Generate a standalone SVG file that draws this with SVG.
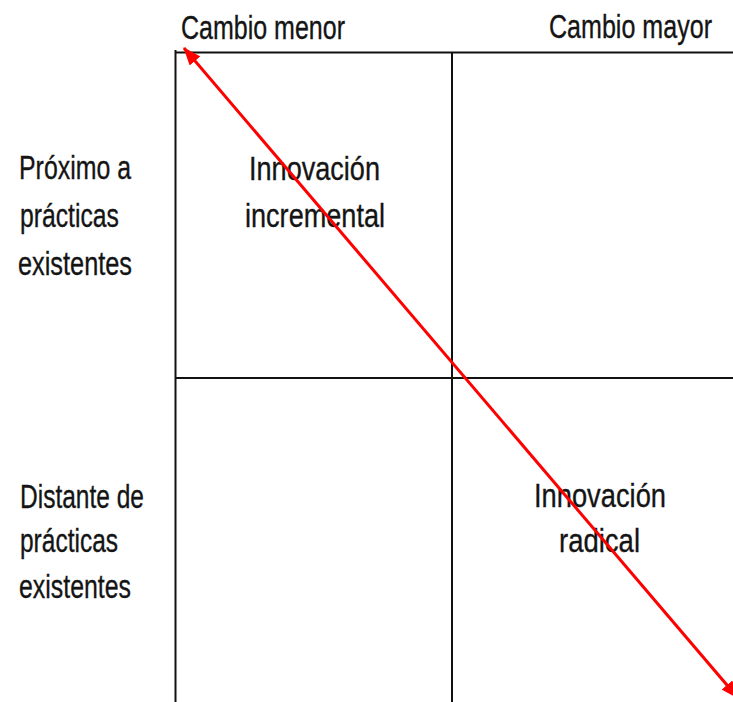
<svg xmlns="http://www.w3.org/2000/svg" width="733" height="702" viewBox="0 0 733 702">
<defs>
<style>
.t{font-family:"Liberation Sans Narrow","Liberation Sans",Arial,sans-serif;font-size:34px;fill:#141414;stroke:#141414;stroke-width:0.35px}
.g{stroke:#111;stroke-width:2;fill:none}
.r{stroke:#ff0000;stroke-width:3;fill:none}
</style>
<marker id="ah" viewBox="0 0 18 14" refX="17" refY="7" markerWidth="18" markerHeight="14" markerUnits="userSpaceOnUse" orient="auto-start-reverse">
<path d="M0,0 L18,7 L0,14 z" fill="#ff0000"/>
</marker>
</defs>
<rect width="733" height="702" fill="#fff"/>
<g id="grid">
<line class="g" x1="175" y1="52.5" x2="733" y2="52.5"/>
<line class="g" x1="175.5" y1="50" x2="175.5" y2="702"/>
<line class="g" x1="452" y1="52" x2="452" y2="702"/>
<line class="g" x1="175" y1="378" x2="733" y2="378"/>
</g>
<g id="col-headers">
<text class="t" x="181" y="39" textLength="164" lengthAdjust="spacingAndGlyphs">Cambio menor</text>
<text class="t" x="549" y="38" textLength="163" lengthAdjust="spacingAndGlyphs">Cambio mayor</text>
</g>
<g id="row-top">
<text class="t" x="19" y="179" textLength="112" lengthAdjust="spacingAndGlyphs">Próximo a</text>
<text class="t" x="20" y="227" textLength="99" lengthAdjust="spacingAndGlyphs">prácticas</text>
<text class="t" x="18" y="275" textLength="114" lengthAdjust="spacingAndGlyphs">existentes</text>
</g>
<g id="row-bottom">
<text class="t" x="20" y="508" textLength="124" lengthAdjust="spacingAndGlyphs">Distante de</text>
<text class="t" x="20" y="552" textLength="98" lengthAdjust="spacingAndGlyphs">prácticas</text>
<text class="t" x="19" y="598" textLength="112" lengthAdjust="spacingAndGlyphs">existentes</text>
</g>
<g id="incremental">
<text class="t" x="249" y="180" textLength="131" lengthAdjust="spacingAndGlyphs">Innovación</text>
<text class="t" x="245" y="227" textLength="140" lengthAdjust="spacingAndGlyphs">incremental</text>
</g>
<g id="radical">
<text class="t" x="534" y="507" textLength="132" lengthAdjust="spacingAndGlyphs">Innovación</text>
<text class="t" x="559" y="552" textLength="81" lengthAdjust="spacingAndGlyphs">radical</text>
</g>
<g id="connectors">
<line class="r" x1="184" y1="48" x2="738" y2="698" marker-start="url(#ah)" marker-end="url(#ah)"/>
</g>
</svg>
